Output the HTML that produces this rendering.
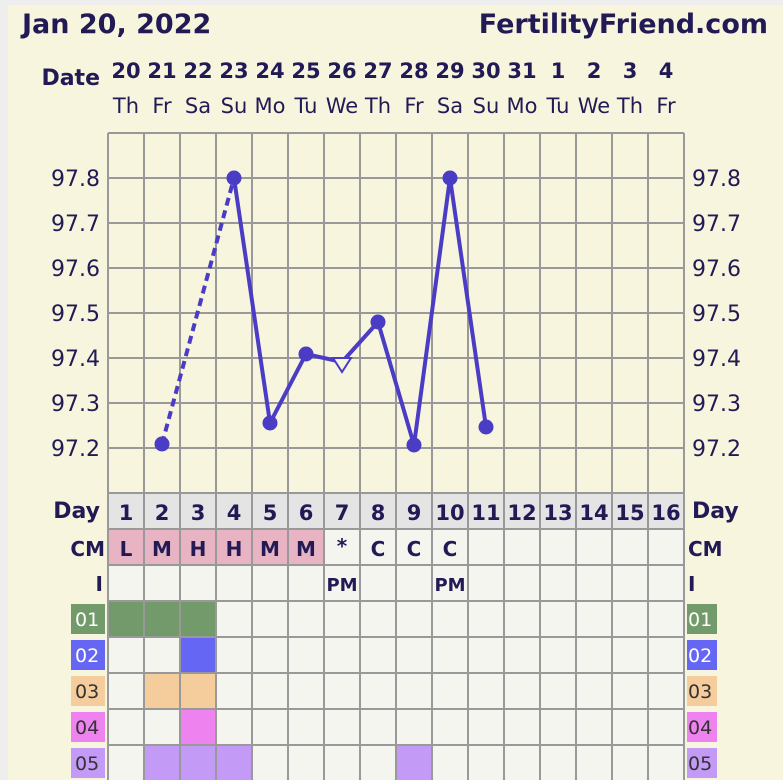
<!DOCTYPE html>
<html><head><meta charset="utf-8"><style>
html,body{margin:0;padding:0;background:#eeeeee;}
svg{display:block;font-family:"DejaVu Sans","Liberation Sans",sans-serif;}
</style></head><body>
<svg width="783" height="780" viewBox="0 0 783 780" xmlns="http://www.w3.org/2000/svg">
<rect x="8" y="5" width="775" height="775" fill="#f7f5dd"/>
<g fill="#221a55">
<text x="22" y="33" font-size="27" font-weight="bold">Jan 20, 2022</text>
<text x="768" y="33" font-size="27" font-weight="bold" text-anchor="end">FertilityFriend.com</text>
<text x="100" y="85" font-size="22" font-weight="bold" text-anchor="end">Date</text>
</g>
<g fill="#221a55" font-size="21" font-weight="bold" text-anchor="middle">
<text x="126" y="78">20</text><text x="162" y="78">21</text><text x="198" y="78">22</text><text x="234" y="78">23</text><text x="270" y="78">24</text><text x="306" y="78">25</text><text x="342" y="78">26</text><text x="378" y="78">27</text><text x="414" y="78">28</text><text x="450" y="78">29</text><text x="486" y="78">30</text><text x="522" y="78">31</text><text x="558" y="78">1</text><text x="594" y="78">2</text><text x="630" y="78">3</text><text x="666" y="78">4</text>
</g>
<g fill="#221a55" font-size="21" text-anchor="middle">
<text x="126" y="113">Th</text><text x="162" y="113">Fr</text><text x="198" y="113">Sa</text><text x="234" y="113">Su</text><text x="270" y="113">Mo</text><text x="306" y="113">Tu</text><text x="342" y="113">We</text><text x="378" y="113">Th</text><text x="414" y="113">Fr</text><text x="450" y="113">Sa</text><text x="486" y="113">Su</text><text x="522" y="113">Mo</text><text x="558" y="113">Tu</text><text x="594" y="113">We</text><text x="630" y="113">Th</text><text x="666" y="113">Fr</text>
</g>
<g fill="#221a55" font-size="22">
<g text-anchor="end">
<text x="100" y="186">97.8</text><text x="100" y="231">97.7</text><text x="100" y="276">97.6</text><text x="100" y="321">97.5</text><text x="100" y="366">97.4</text><text x="100" y="411">97.3</text><text x="100" y="456">97.2</text>
</g>
<text x="692" y="186">97.8</text><text x="692" y="231">97.7</text><text x="692" y="276">97.6</text><text x="692" y="321">97.5</text><text x="692" y="366">97.4</text><text x="692" y="411">97.3</text><text x="692" y="456">97.2</text>
</g>
<rect x="108" y="493" width="576" height="287" fill="#f5f5ef"/>
<rect x="108" y="493" width="576" height="36" fill="#e4e4e4"/>
<rect x="108" y="529" width="216" height="36" fill="#e8b4c4"/>
<g>
<rect x="108" y="601" width="108" height="36" fill="#729a6a"/>
<rect x="180" y="637" width="36" height="36" fill="#6666f5"/>
<rect x="144" y="673" width="72" height="36" fill="#f5cd9d"/>
<rect x="180" y="709" width="36" height="36" fill="#ee82ee"/>
<rect x="144" y="745" width="108" height="36" fill="#c39bf7"/>
<rect x="396" y="745" width="36" height="36" fill="#c39bf7"/>
</g>
<g stroke="#999" stroke-width="2">
<line x1="108" y1="133" x2="684" y2="133"/><line x1="108" y1="178" x2="684" y2="178"/><line x1="108" y1="223" x2="684" y2="223"/><line x1="108" y1="268" x2="684" y2="268"/><line x1="108" y1="313" x2="684" y2="313"/><line x1="108" y1="358" x2="684" y2="358"/><line x1="108" y1="403" x2="684" y2="403"/><line x1="108" y1="448" x2="684" y2="448"/>
<line x1="108" y1="493" x2="684" y2="493"/><line x1="108" y1="529" x2="684" y2="529"/><line x1="108" y1="565" x2="684" y2="565"/><line x1="108" y1="601" x2="684" y2="601"/><line x1="108" y1="637" x2="684" y2="637"/><line x1="108" y1="673" x2="684" y2="673"/><line x1="108" y1="709" x2="684" y2="709"/><line x1="108" y1="745" x2="684" y2="745"/>
<line x1="108" y1="133" x2="108" y2="780"/><line x1="144" y1="133" x2="144" y2="780"/><line x1="180" y1="133" x2="180" y2="780"/><line x1="216" y1="133" x2="216" y2="780"/><line x1="252" y1="133" x2="252" y2="780"/><line x1="288" y1="133" x2="288" y2="780"/><line x1="324" y1="133" x2="324" y2="780"/><line x1="360" y1="133" x2="360" y2="780"/><line x1="396" y1="133" x2="396" y2="780"/><line x1="432" y1="133" x2="432" y2="780"/><line x1="468" y1="133" x2="468" y2="780"/><line x1="504" y1="133" x2="504" y2="780"/><line x1="540" y1="133" x2="540" y2="780"/><line x1="576" y1="133" x2="576" y2="780"/><line x1="612" y1="133" x2="612" y2="780"/><line x1="648" y1="133" x2="648" y2="780"/><line x1="684" y1="133" x2="684" y2="780"/>
</g>
<g stroke="#4a3cc4" stroke-width="4" fill="none">
<line x1="162" y1="444" x2="234" y2="178" stroke-dasharray="8,5"/>
<polyline points="234,178 270,423 306,354 342,362 378,322 414,445 450,178 486,427"/>
</g>
<g fill="#4a3cc4">
<circle cx="162" cy="444" r="7.5"/><circle cx="234" cy="178" r="7.5"/><circle cx="270" cy="423" r="7.5"/><circle cx="306" cy="354" r="7.5"/><circle cx="378" cy="322" r="7.5"/><circle cx="414" cy="445" r="7.5"/><circle cx="450" cy="178" r="7.5"/><circle cx="486" cy="427" r="7.5"/>
</g>
<polygon points="333,358 351,358 342,372" fill="#f7f5dd" stroke="#4a3cc4" stroke-width="2"/>
<g fill="#221a55" font-weight="bold" font-size="22">
<text x="100" y="518" text-anchor="end">Day</text>
<text x="692" y="518">Day</text>
</g>
<g fill="#221a55" font-weight="bold" font-size="21" text-anchor="middle">
<text x="126" y="520">1</text><text x="162" y="520">2</text><text x="198" y="520">3</text><text x="234" y="520">4</text><text x="270" y="520">5</text><text x="306" y="520">6</text><text x="342" y="520">7</text><text x="378" y="520">8</text><text x="414" y="520">9</text><text x="450" y="520">10</text><text x="486" y="520">11</text><text x="522" y="520">12</text><text x="558" y="520">13</text><text x="594" y="520">14</text><text x="630" y="520">15</text><text x="666" y="520">16</text>
</g>
<g fill="#221a55" font-weight="bold" font-size="20" text-anchor="middle">
<text x="126" y="556">L</text><text x="162" y="556">M</text><text x="198" y="556">H</text><text x="234" y="556">H</text><text x="270" y="556">M</text><text x="306" y="556">M</text><text x="342" y="553">*</text><text x="378" y="556">C</text><text x="414" y="556">C</text><text x="450" y="556">C</text>
<text x="342" y="591" font-size="18">PM</text><text x="450" y="591" font-size="18">PM</text>
</g>
<g fill="#221a55" font-weight="bold" font-size="20">
<text x="105" y="556" text-anchor="end">CM</text><text x="688" y="556">CM</text>
<text x="103" y="591" text-anchor="end">I</text><text x="688" y="591">I</text>
</g>
<g>
<rect x="71" y="604" width="34" height="30" fill="#729a6a"/><rect x="687" y="604" width="30" height="30" fill="#729a6a"/>
<rect x="71" y="640" width="34" height="30" fill="#6666f5"/><rect x="687" y="640" width="30" height="30" fill="#6666f5"/>
<rect x="71" y="676" width="34" height="30" fill="#f5cd9d"/><rect x="687" y="676" width="30" height="30" fill="#f5cd9d"/>
<rect x="71" y="712" width="34" height="30" fill="#ee82ee"/><rect x="687" y="712" width="30" height="30" fill="#ee82ee"/>
<rect x="71" y="748" width="34" height="30" fill="#c39bf7"/><rect x="687" y="748" width="30" height="30" fill="#c39bf7"/>
</g>
<g font-size="19">
<text x="75" y="626" fill="#fff">01</text><text x="688" y="626" fill="#fff">01</text>
<text x="75" y="662" fill="#fff">02</text><text x="688" y="662" fill="#fff">02</text>
<text x="75" y="698" fill="#333">03</text><text x="688" y="698" fill="#333">03</text>
<text x="75" y="734" fill="#333">04</text><text x="688" y="734" fill="#333">04</text>
<text x="75" y="770" fill="#333">05</text><text x="688" y="770" fill="#333">05</text>
</g>
</svg>
</body></html>
